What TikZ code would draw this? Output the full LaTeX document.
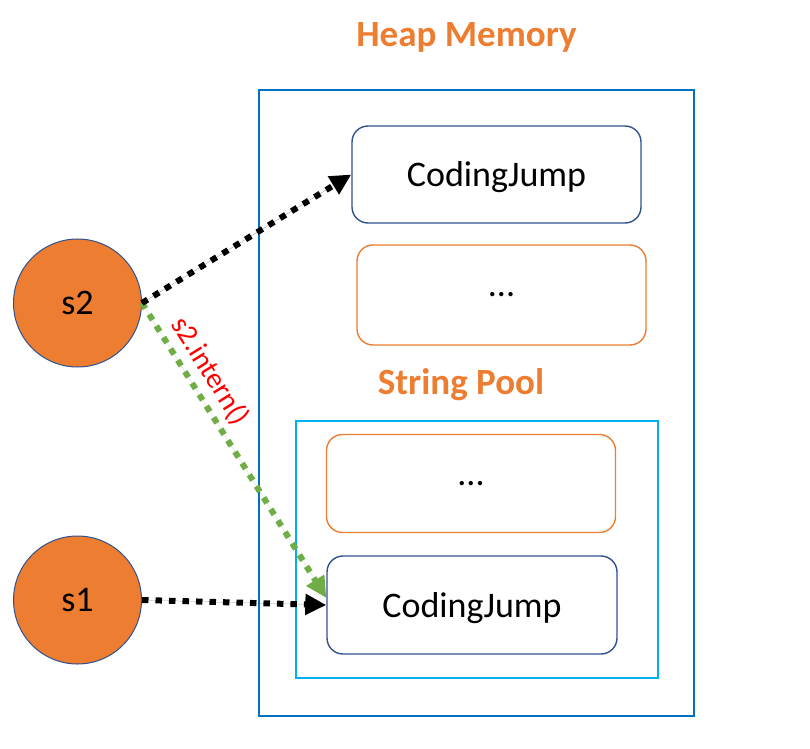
\documentclass[tikz,border=0pt]{standalone}
\usepackage{fontspec}
\setmainfont{Carlito}
\usetikzlibrary{arrows.meta,calc}
\definecolor{orng}{RGB}{237,125,49}
\definecolor{navy}{RGB}{47,82,143}
\definecolor{heapblue}{RGB}{0,112,192}
\definecolor{poolblue}{RGB}{0,176,240}
\definecolor{grn}{RGB}{112,173,71}
\definecolor{rd}{RGB}{255,0,0}
\begin{document}
\begin{tikzpicture}[x=1pt,y=1pt,
  txt/.style={font=\fontsize{36}{40}\selectfont},
  ttl/.style={font=\bfseries\fontsize{37}{42}\selectfont, text=orng, inner sep=0pt},
  strbox/.style={draw=navy, line width=1.4pt, rounded corners=16pt, inner sep=0pt,
    minimum width=289pt, minimum height=97pt, txt, text height=25pt, text depth=1pt},
  dotbox/.style={draw=orng, line width=1.4pt, rounded corners=16pt, inner sep=0pt,
    minimum width=289pt, minimum height=98pt, txt},
  frame/.style={line width=2pt, inner sep=0pt},
  var/.style={circle, fill=orng, draw=navy, line width=1pt, minimum size=128pt, inner sep=0pt, txt},
  dotarrow/.style={line width=6pt, dash pattern=on 6.5pt off 7pt,
    -{Triangle[length=21pt,width=20pt]}}
]
\useasboundingbox (0,0) rectangle (810,748);

% frames
\node[frame, draw=heapblue, minimum width=435pt, minimum height=626pt] (heap) at (476.5,345) {};
\node[frame, draw=poolblue, minimum width=362pt, minimum height=257pt] (pool) at (477,198.5) {};

% titles
\node[ttl, anchor=base] (heaplbl) at (466.5,701) {Heap Memory};
\node[ttl, anchor=base] (poollbl) at (461,354) {String Pool};

% boxes
\node[strbox] (cjt) at (496.5,573.5) {CodingJump};
\node[dotbox, minimum height=100pt] (dots1) at (501.5,453) {...};
\node[dotbox] (dots2) at (471,264.5) {...};
\node[strbox, minimum width=290pt, minimum height=98pt] (cjb) at (472,143) {CodingJump};

% variables
\node[var] (s2) at (77.5,445) {s2};
\node[var] (s1) at (77.5,148) {s1};

% connectors
\draw[dotarrow, draw=grn, fill=grn] (s2.east) --
  node[sloped, above=4pt, pos=0.27, text=rd, font=\fontsize{29}{32}\selectfont, inner sep=2pt] (intern) {s2.intern()}
  ($(cjb.west)+(0,7)$);
\draw[dotarrow, draw=black, fill=black] (s2.east) -- (cjt.west);
\draw[dotarrow, draw=black, fill=black] (s1.east) -- (cjb.west);
\end{tikzpicture}
\end{document}
